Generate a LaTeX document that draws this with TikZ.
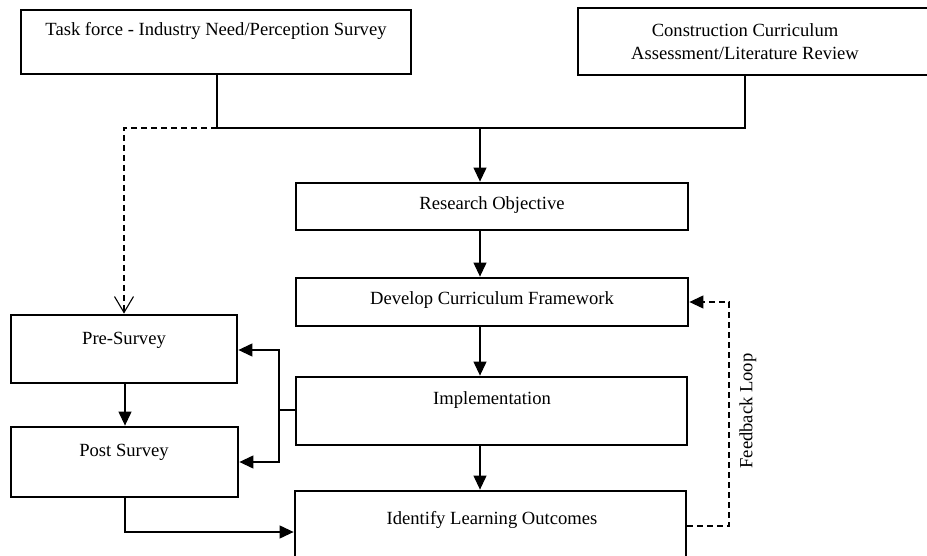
\documentclass[tikz,border=0pt]{standalone}
\usepackage{fontspec}
\setmainfont{Liberation Serif}
\usetikzlibrary{arrows.meta,fit}
\begin{document}
\begin{tikzpicture}[x=1pt,y=1pt,
  box/.style={draw, line width=2.8pt, inner sep=0pt},
  lbl/.style={font=\fontsize{18.6}{23.5}\selectfont, align=center, inner sep=0pt},
  conn/.style={line width=1.1pt},
  arr/.style={conn, -{Triangle[length=14pt,width=13pt]}},
  dashline/.style={line width=1.1pt, dash pattern=on 6pt off 4pt}]
\useasboundingbox (0,0) rectangle (927,-556);
% boxes
\node[box, fit={(21,-10) (411,-74)}] (tf) {};
\node[box, fit={(578,-8) (935,-75)}] (cc) {};
\node[box, fit={(296,-183) (688,-230)}] (ro) {};
\node[box, fit={(296,-278) (688,-326)}] (dcf) {};
\node[box, fit={(296,-377) (687,-445)}] (impl) {};
\node[box, fit={(295,-491) (686,-575)}] (ilo) {};
\node[box, fit={(11,-315) (237,-383)}] (pre) {};
\node[box, fit={(11,-427) (238,-497)}] (post) {};
% texts
\node[lbl] (ttf) at (216,-31) {Task force - Industry Need/Perception Survey};
\node[lbl] (tcc) at (745,-41.5) {Construction Curriculum\\Assessment/Literature Review};
\node[lbl] (tro) at (492,-205) {Research Objective};
\node[lbl] (tdcf) at (492,-300) {Develop Curriculum Framework};
\node[lbl] (timpl) at (492,-400) {Implementation};
\node[lbl] (tilo) at (492,-520) {Identify Learning Outcomes};
\node[lbl] (tpre) at (124,-340) {Pre-Survey};
\node[lbl] (tpost) at (124,-452) {Post Survey};
\node[lbl, rotate=90] (tfb) at (748,-411) {Feedback Loop};
% junctions
\coordinate (j1) at (217,-128);
\coordinate (j2) at (745,-128);
\coordinate (jm) at (480,-128);
\coordinate (jd) at (124,-128);
\coordinate (bx) at (279,-410);
\coordinate (b1) at (279,-350);
\coordinate (b2) at (279,-462);
\coordinate (fb1) at (729,-526);
\coordinate (fb2) at (729,-302);
\coordinate (pb) at (125,-532);
% connectors
\draw[conn] (tf.south -| j1) -- (j1) -- (j2) -- (cc.south -| j2);
\draw[arr] (jm) -- (jm |- ro.north);
\draw[dashline, -{Straight Barb[length=16pt,width=19pt,line width=1.1pt]}] (j1) -- (jd) -- (jd |- pre.north);
\draw[arr] (jm |- ro.south) -- (jm |- dcf.north);
\draw[arr] (jm |- dcf.south) -- (jm |- impl.north);
\draw[arr] (jm |- impl.south) -- (jm |- ilo.north);
\draw[conn] (impl.west |- bx) -- (bx);
\draw[arr] (b2) -- (b1) -- (b1 -| pre.east);
\draw[arr] (b1) -- (b2) -- (b2 -| post.east);
\draw[arr] (pre.south -| pb) -- (pb |- post.north);
\draw[arr] (post.south -| pb) -- (pb) -- (pb -| ilo.west);
\draw[dashline, -{Triangle[length=14pt,width=13pt]}] (ilo.east |- fb1) -- (fb1) -- (fb2) -- (fb2 -| dcf.east);
\end{tikzpicture}
\end{document}
